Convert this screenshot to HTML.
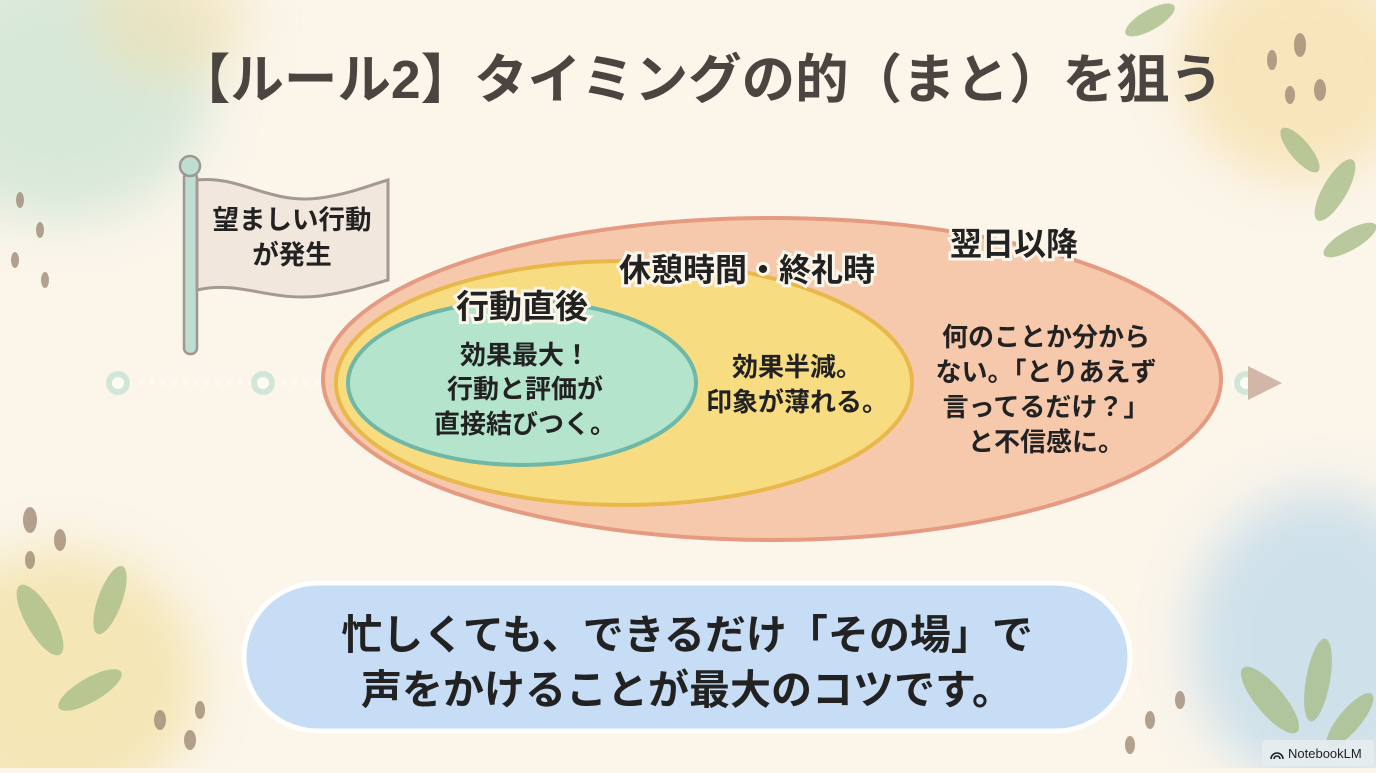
<!DOCTYPE html>
<html><head><meta charset="utf-8"><style>
html,body{margin:0;padding:0}
body{width:1376px;height:768px;overflow:hidden;background:#fbf5ea;font-family:"Liberation Sans","Noto Sans CJK JP",sans-serif}
svg text{font-family:"Liberation Sans","Noto Sans CJK JP",sans-serif;font-weight:bold}
</style></head><body>
<svg width="1376" height="768" viewBox="0 0 1376 768">
<defs>
<filter id="bl" x="-50%" y="-50%" width="200%" height="200%"><feGaussianBlur stdDeviation="25"/></filter>
<filter id="bl2"><feGaussianBlur stdDeviation="6"/></filter>
</defs>
<rect width="1376" height="768" fill="#fbf5ea"/>
<ellipse cx="60" cy="90" rx="150" ry="130" fill="#c9e3d3" opacity="0.7" filter="url(#bl)"/>
<ellipse cx="170" cy="20" rx="80" ry="60" fill="#efe0b0" opacity="0.6" filter="url(#bl)"/>
<ellipse cx="1300" cy="70" rx="120" ry="110" fill="#f6dfa8" opacity="0.7" filter="url(#bl)"/>
<ellipse cx="60" cy="680" rx="140" ry="130" fill="#f2e0a0" opacity="0.7" filter="url(#bl)"/>
<ellipse cx="1320" cy="640" rx="130" ry="150" fill="#c4dcea" opacity="0.8" filter="url(#bl)"/>
<g fill="#a9bf8a" opacity="0.8">
<ellipse cx="1335" cy="190" rx="12" ry="35" transform="rotate(30 1335 190)"/>
<ellipse cx="1300" cy="150" rx="10" ry="28" transform="rotate(-40 1300 150)"/>
<ellipse cx="1350" cy="240" rx="10" ry="30" transform="rotate(60 1350 240)"/>
<ellipse cx="1150" cy="20" rx="10" ry="28" transform="rotate(60 1150 20)"/>
<ellipse cx="40" cy="620" rx="14" ry="40" transform="rotate(-30 40 620)"/>
<ellipse cx="110" cy="600" rx="12" ry="36" transform="rotate(20 110 600)"/>
<ellipse cx="90" cy="690" rx="12" ry="36" transform="rotate(60 90 690)"/>
<ellipse cx="1270" cy="700" rx="14" ry="42" transform="rotate(-40 1270 700)"/>
<ellipse cx="1318" cy="680" rx="12" ry="42" transform="rotate(10 1318 680)"/>
<ellipse cx="1350" cy="720" rx="11" ry="34" transform="rotate(40 1350 720)"/>
</g>
<g fill="#9a8470" opacity="0.75">
<ellipse cx="1300" cy="45" rx="6" ry="12"/><ellipse cx="1272" cy="60" rx="5" ry="10"/><ellipse cx="1320" cy="90" rx="6" ry="11"/><ellipse cx="1290" cy="95" rx="5" ry="9"/>
<ellipse cx="30" cy="520" rx="7" ry="13"/><ellipse cx="60" cy="540" rx="6" ry="11"/><ellipse cx="30" cy="560" rx="5" ry="9"/>
<ellipse cx="160" cy="720" rx="6" ry="10"/><ellipse cx="190" cy="740" rx="6" ry="10"/><ellipse cx="200" cy="710" rx="5" ry="9"/>
<ellipse cx="1150" cy="720" rx="5" ry="9"/><ellipse cx="1180" cy="700" rx="5" ry="9"/><ellipse cx="1130" cy="745" rx="5" ry="9"/>
<ellipse cx="20" cy="200" rx="4" ry="8"/><ellipse cx="40" cy="230" rx="4" ry="8"/><ellipse cx="15" cy="260" rx="4" ry="8"/><ellipse cx="45" cy="280" rx="4" ry="8"/>
</g>
<text x="700" y="98" font-size="53.5" fill="#4a4540" text-anchor="middle">【ルール2】タイミングの的（まと）を狙う</text>
<line x1="118" y1="383" x2="1250" y2="383" stroke="#cdb9a8" stroke-width="10" opacity="0.5" filter="url(#bl2)"/>
<line x1="130" y1="383" x2="330" y2="383" stroke="#fffbf3" stroke-width="5" stroke-dasharray="0 11" stroke-linecap="round"/>
<line x1="1200" y1="383" x2="1240" y2="383" stroke="#fffbf3" stroke-width="5" stroke-dasharray="0 11" stroke-linecap="round"/>
<circle cx="118" cy="383" r="12" fill="#bfe0d2" opacity="0.7"/><circle cx="118" cy="383" r="6" fill="#fffbf3"/>
<circle cx="263" cy="383" r="12" fill="#bfe0d2" opacity="0.7"/><circle cx="263" cy="383" r="6" fill="#fffbf3"/>
<circle cx="1246" cy="383" r="12" fill="#bfe0d2" opacity="0.7"/><circle cx="1246" cy="383" r="6" fill="#fffbf3"/>
<polygon points="1248,366 1282,383 1248,400" fill="#d2b7a8"/>
<rect x="184" y="172" width="13" height="182" rx="6" fill="#bfded2" stroke="#9e9890" stroke-width="2.5"/>
<circle cx="190" cy="166" r="10" fill="#bfded2" stroke="#9e9890" stroke-width="2.5"/>
<path d="M197,180 C240,175 270,205 320,198 C350,194 370,185 388,180 L388,280 C370,285 350,292 320,296 C270,302 240,280 197,290 Z" fill="#f1e7dc" stroke="#a49a92" stroke-width="3"/>
<text x="292" y="229" font-size="26.5" fill="#222" text-anchor="middle">望ましい行動</text>
<text x="292" y="264" font-size="26.5" fill="#222" text-anchor="middle">が発生</text>
<ellipse cx="772" cy="379" rx="449" ry="161" fill="#f6c8ac" stroke="#e59a82" stroke-width="4"/>
<ellipse cx="624" cy="383" rx="288" ry="122" fill="#f8dc82" stroke="#e8b84a" stroke-width="4"/>
<ellipse cx="522" cy="383" rx="174" ry="82" fill="#b4e4cc" stroke="#6fb7a6" stroke-width="4"/>
<g stroke="#fbf5ea" stroke-width="6" paint-order="stroke" fill="#222">
<text x="1014" y="255" font-size="32" text-anchor="middle">翌日以降</text>
<text x="747" y="281" font-size="32" text-anchor="middle">休憩時間・終礼時</text>
<text x="522" y="318" font-size="33" text-anchor="middle">行動直後</text>
</g>
<g fill="#222" font-size="26" text-anchor="middle">
<text x="525" y="364">効果最大！</text>
<text x="525" y="398">行動と評価が</text>
<text x="525" y="433">直接結びつく。</text>
<text x="797" y="376">効果半減。</text>
<text x="797" y="411">印象が薄れる。</text>
<text x="1046" y="346">何のことか分から</text>
<text x="1046" y="381">ない。「とりあえず</text>
<text x="1046" y="416">言ってるだけ？」</text>
<text x="1046" y="451">と不信感に。</text>
</g>
<rect x="244" y="583" width="886" height="148" rx="74" fill="#c6ddf5" stroke="#ffffff" stroke-width="5"/>
<text x="687" y="649" font-size="41" fill="#222" text-anchor="middle">忙しくても、できるだけ「その場」で</text>
<text x="687" y="704" font-size="41" fill="#222" text-anchor="middle">声をかけることが最大のコツです。</text>
<rect x="1262" y="740" width="112" height="26" rx="4" fill="#e6ecef" opacity="0.9"/>
<text x="1288" y="758" font-size="13" fill="#222" style="font-weight:normal">NotebookLM</text>
<path d="M1271,759 a6,6 0 0 1 12,0 M1274,759 a3,3 0 0 1 6,0" stroke="#222" stroke-width="1.6" fill="none"/>
</svg>
</body></html>
